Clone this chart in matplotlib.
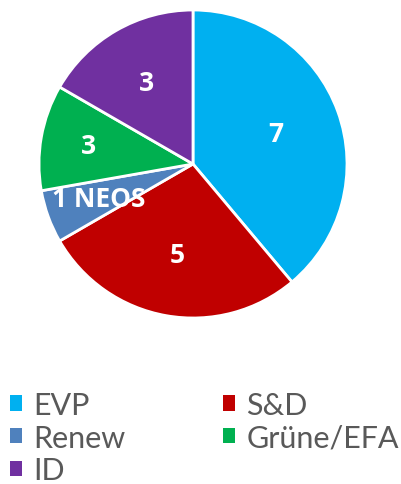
import numpy as np
import matplotlib.pyplot as plt
from matplotlib.patches import Patch

# Daten
parteien = ['EVP', 'S&D', 'Renew', 'Grüne/EFA', 'ID']
sitze = [7, 5, 1, 2, 3]          # Segmentgrößen wie im Bild
beschriftung = ['7', '5', '1 NEOS', '3', '3']
farben = ['#00B0F0', '#C00000', '#4F81BD', '#00B050', '#7030A0']

fig = plt.figure(figsize=(4.01, 4.85), dpi=100)
# Kreis: Mitte (193, 165), Radius 154 px
ax = fig.add_axes([39 / 401, 166 / 485, 308 / 401, 308 / 485])

wedges, _ = ax.pie(sitze, colors=farben, startangle=90, counterclock=False,
                   wedgeprops=dict(edgecolor='white', linewidth=2))
ax.set_xlim(-1, 1)
ax.set_ylim(-1, 1)
ax.set_aspect('equal')

# Beschriftungen in den Segmenten
abstand = [0.57, 0.6, 0.65, 0.69, 0.61]
for w, txt, d in zip(wedges, beschriftung, abstand):
    ang = np.deg2rad((w.theta1 + w.theta2) / 2)
    ax.text(d * np.cos(ang), d * np.sin(ang), txt, ha='center', va='center',
            color='white', fontsize=19, fontweight='bold', family='Open Sans',
            clip_on=False)

# Legende
handles = [Patch(facecolor=c, edgecolor='none') for c in farben]
order = [0, 2, 4, 1, 3]
fig.legend([handles[i] for i in order], [parteien[i] for i in order],
           loc='upper left', bbox_to_anchor=(10 / 401, 1 - 392 / 485), ncol=2,
           frameon=False, borderpad=0, borderaxespad=0,
           labelcolor='#595959', handlelength=0.4, handleheight=0.4,
           handletextpad=0.36, columnspacing=3.2, labelspacing=0.15,
           prop={'family': 'Lato', 'size': 22})

fig.savefig('out.png', dpi=100)
